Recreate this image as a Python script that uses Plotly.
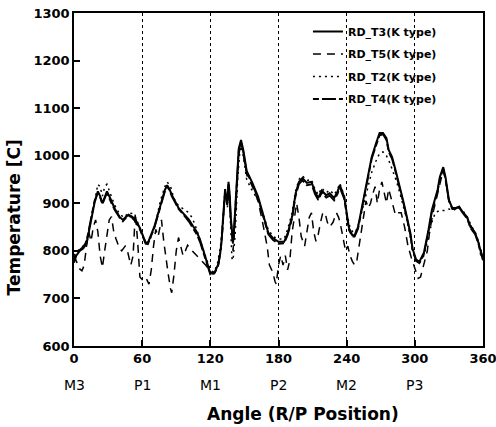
import plotly.graph_objects as go

# ---- data ----
x_main = [0, 2, 5, 8, 11, 14, 16, 18, 21, 23, 25, 27, 29, 32, 36, 40, 43, 46, 48, 51, 54, 58, 61, 63, 65, 67,
          71, 76, 80, 82, 84, 86, 89, 92, 95, 98, 101, 104, 108, 111, 115, 118, 120, 122, 124, 127, 129, 130,
          132, 133, 134, 135, 136, 137, 138, 139, 140, 141, 143, 145, 147, 149, 152, 157, 162, 166, 171, 175,
          180, 185, 188, 192, 195, 198, 201, 205, 209, 212, 215, 218, 222, 225, 229, 232, 234, 238, 240, 242,
          245, 247, 250, 253, 255, 259, 262, 266, 269, 272, 275, 277, 280, 283, 287, 290, 293, 296, 298, 301,
          304, 308, 312, 315, 320, 322, 325, 327, 330, 333, 336, 339, 342, 346, 349, 353, 356, 358, 360]

t3 = [775, 790, 800, 805, 815, 850, 875, 900, 925, 915, 900, 915, 925, 910, 888, 872, 865, 872, 876, 872, 866,
      848, 828, 818, 817, 828, 853, 895, 928, 938, 930, 918, 903, 890, 882, 875, 866, 855, 840, 823, 792, 765,
      753, 752, 756, 772, 800, 825, 890, 930, 912, 900, 945, 920, 870, 840, 818, 850, 930, 1015, 1033, 1012,
      968, 943, 914, 880, 838, 827, 819, 819, 836, 872, 920, 945, 953, 943, 945, 925, 911, 927, 917, 921, 911,
      925, 938, 912, 875, 848, 833, 833, 850, 888, 914, 964, 997, 1027, 1048, 1048, 1037, 1012, 997, 970, 934,
      903, 871, 838, 805, 782, 777, 796, 844, 886, 928, 955, 976, 955, 907, 890, 890, 893, 882, 871, 850, 838,
      817, 795, 780]

t4 = [780, 795, 802, 808, 820, 855, 878, 905, 922, 912, 898, 912, 922, 905, 885, 870, 862, 870, 874, 870, 862,
      845, 825, 815, 814, 825, 850, 892, 925, 935, 928, 915, 900, 888, 880, 872, 862, 850, 835, 818, 788, 762,
      750, 749, 754, 770, 798, 822, 885, 925, 908, 897, 940, 915, 865, 835, 815, 848, 925, 1010, 1028, 1008,
      965, 940, 910, 876, 835, 823, 815, 816, 833, 868, 915, 940, 948, 938, 940, 920, 907, 922, 912, 916, 906,
      920, 933, 908, 870, 844, 830, 830, 846, 884, 910, 960, 993, 1022, 1043, 1045, 1033, 1008, 993, 966, 930,
      900, 868, 835, 802, 779, 774, 793, 840, 882, 924, 950, 972, 950, 905, 888, 888, 891, 880, 868, 848, 835,
      815, 793, 785]

x_t2 = [0, 3, 6, 10, 13, 16, 19, 21, 23, 25, 27, 29, 32, 36, 40, 44, 48, 52, 56, 60, 63, 65, 68, 72, 76, 80, 82,
        85, 88, 92, 96, 100, 104, 108, 112, 116, 120, 123, 126, 129, 131, 133, 135, 136, 137, 138, 139, 140,
        142, 144, 146, 147, 149, 152, 156, 160, 165, 170, 175, 180, 185, 188, 192, 195, 198, 201, 205, 209,
        212, 215, 218, 222, 225, 229, 232, 234, 238, 240, 243, 246, 249, 252, 255, 259, 262, 266, 269, 272,
        275, 278, 281, 284, 287, 290, 293, 296, 298, 301, 304, 308, 312, 315, 318, 322, 326, 330, 334, 338,
        342, 346, 350, 354, 357, 360]
t2 = [790, 800, 805, 815, 840, 880, 915, 940, 935, 915, 935, 940, 920, 895, 878, 870, 880, 878, 860, 835, 818,
      815, 830, 860, 905, 935, 945, 935, 910, 895, 888, 882, 870, 845, 815, 785, 760, 755, 770, 810, 860, 925,
      890, 940, 900, 820, 785, 780, 840, 950, 1010, 1020, 1000, 950, 930, 915, 890, 850, 830, 825, 825, 845,
      880, 925, 950, 958, 948, 950, 930, 918, 932, 922, 928, 918, 930, 942, 915, 880, 848, 838, 845, 870, 900,
      940, 965, 990, 1005, 1008, 1000, 985, 965, 945, 920, 895, 865, 830, 800, 780, 775, 790, 830, 860, 880,
      885, 885, 888, 885, 892, 885, 872, 852, 835, 810, 790]

x_t5 = [0, 3, 5, 7, 9, 11, 13, 15, 17, 19, 21, 23, 25, 27, 29, 31, 33, 35, 37, 40, 42, 45, 47, 50, 52, 54, 56,
        58, 60, 63, 66, 68, 70, 72, 74, 77, 79, 81, 83, 85, 86, 88, 90, 92, 94, 96, 98, 100, 104, 108, 112, 116,
        120, 124, 127, 130, 133, 135, 136, 138, 140, 142, 145, 147, 149, 152, 157, 162, 166, 170, 172, 175,
        177, 178, 180, 182, 184, 186, 188, 190, 192, 194, 196, 198, 200, 203, 205, 207, 209, 211, 213, 215,
        217, 219, 221, 223, 225, 228, 231, 233, 235, 237, 239, 241, 243, 245, 247, 249, 251, 253, 255, 257,
        259, 261, 263, 265, 267, 269, 271, 273, 275, 277, 279, 281, 283, 285, 288, 291, 294, 297, 299, 301,
        303, 305, 307, 309, 311, 313, 316, 320, 323, 325, 327, 330, 333, 336, 339, 342, 346, 350, 354, 357, 360]
t5 = [790, 775, 762, 758, 770, 810, 840, 820, 850, 865, 840, 790, 765, 800, 835, 865, 872, 840, 825, 805, 800,
      810, 800, 770, 790, 880, 820, 745, 740, 745, 730, 760, 810, 845, 830, 865, 820, 780, 750, 720, 712, 750,
      800, 828, 810, 790, 800, 812, 800, 790, 780, 770, 755, 755, 770, 820, 925, 900, 940, 870, 800, 870, 1000,
      1030, 1005, 960, 935, 905, 860, 810, 770, 755, 735, 730, 770, 790, 770, 790, 760, 780, 840, 870, 900, 870,
      830, 810, 840, 870, 880, 840, 820, 835, 860, 880, 880, 860, 850, 860, 880, 870, 850, 820, 800, 810, 790,
      778, 770, 780, 810, 840, 870, 905, 890, 900, 920, 935, 900, 930, 945, 920, 900, 930, 910, 890, 875, 880,
      880, 850, 810, 785, 770, 755, 742, 745, 765, 780, 800, 840, 880, 920, 950, 970, 950, 905, 892, 888, 893,
      880, 870, 850, 835, 810, 785]

x_ticks = [0, 60, 120, 180, 240, 300, 360]
pos_labels = ["M3", "P1", "M1", "P2", "M2", "P3"]

FONT = "DejaVu Sans, sans-serif"

fig = go.Figure()
fig.add_trace(go.Scatter(x=x_main, y=t3, mode="lines", name="<b>RD_T3(K type)</b>", legendgroup="a",
                         line=dict(color="black", width=2)))
fig.add_trace(go.Scatter(x=x_t5, y=t5, mode="lines", name="<b>RD_T5(K type)</b>", legendgroup="b",
                         line=dict(color="black", width=1.5, dash="8px,6px")))
fig.add_trace(go.Scatter(x=x_t2, y=t2, mode="lines", name="<b>RD_T2(K type)</b>", legendgroup="c",
                         line=dict(color="black", width=1.5, dash="2px,4px")))
fig.add_trace(go.Scatter(x=x_main, y=t4, mode="lines", name="<b>RD_T4(K type)</b>", legendgroup="d",
                         line=dict(color="black", width=1.8, dash="6px,3px,14px,3px")))

for xv, lab in zip(x_ticks, pos_labels):
    fig.add_annotation(x=xv, y=-0.117, xref="x", yref="paper", text=lab, showarrow=False,
                       yanchor="middle", font=dict(family=FONT, size=14, color="black"))

fig.add_annotation(x=0.56, y=-0.204, xref="paper", yref="paper", text="<b>Angle (R/P Position)</b>",
                   showarrow=False, xanchor="center", yanchor="middle",
                   font=dict(family=FONT, size=17, color="black"))
fig.add_annotation(x=-0.146, y=0.387, xref="paper", yref="paper", text="<b>Temperature [C]</b>",
                   showarrow=False, xanchor="center", yanchor="middle", textangle=-90,
                   font=dict(family=FONT, size=17, color="black"))

fig.update_layout(
    width=496, height=427,
    margin=dict(l=74, r=13, t=13, b=81),
    plot_bgcolor="white", paper_bgcolor="white",
    font=dict(family=FONT, color="black"),
    showlegend=True,
    legend=dict(x=0.572, y=0.988, xanchor="left", yanchor="top", bgcolor="rgba(0,0,0,0)",
                font=dict(family=FONT, size=11, color="black"), tracegroupgap=3.5),
    xaxis=dict(range=[0, 360], tickvals=x_ticks, ticktext=[f"<b>{v}</b>" for v in x_ticks],
               ticks="inside", ticklen=6, tickwidth=1.5, tickcolor="black",
               showline=True, linewidth=1.5, linecolor="black", mirror=True,
               showgrid=True, gridcolor="black", gridwidth=1, griddash="dot",
               zeroline=False, tickfont=dict(family=FONT, size=13), automargin=False,
               ticklabeloverflow="allow"),
    yaxis=dict(range=[600, 1300], dtick=100, tickformat="d",
               ticks="inside", ticklen=6, tickwidth=1.5, tickcolor="black",
               showline=True, linewidth=1.5, linecolor="black", mirror=True,
               showgrid=False, zeroline=False, tickfont=dict(family=FONT, size=13), automargin=False,
               tickprefix="<b>", ticksuffix="</b>"),
)

fig.write_html("out.html", config={"displayModeBar": False},
               post_script="document.body.style.margin='0';")
